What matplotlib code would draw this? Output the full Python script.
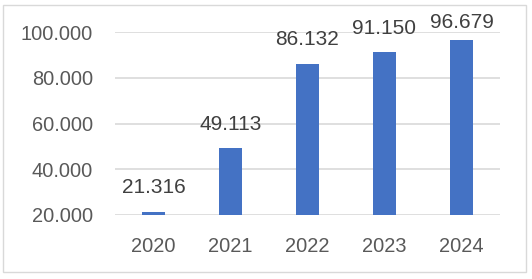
import matplotlib.pyplot as plt
from matplotlib.patches import Rectangle

years = ['2020', '2021', '2022', '2023', '2024']
values = [21.316, 49.113, 86.132, 91.150, 96.679]
y_ticks = [20, 40, 60, 80, 100]

plt.rcParams['font.family'] = ['Liberation Sans', 'DejaVu Sans']

W, H = 532, 279
fig = plt.figure(figsize=(W / 100, H / 100), dpi=100)
ax = fig.add_axes([115 / W, 1 - 215 / H, 385 / W, 183 / H])

x = list(range(len(years)))
ax.bar(x, values, width=0.31, color='#4472C4', zorder=3)

ax.set_xlim(-0.5, len(years) - 0.5)
ax.set_ylim(20, 100)
ax.set_yticks(y_ticks)
ax.set_yticklabels([f'{v:.3f}' for v in y_ticks])
ax.set_xticks(x)
ax.set_xticklabels(years)
ax.tick_params(axis='y', length=0, pad=16, labelsize=14.4, labelcolor='#595959')
ax.tick_params(axis='x', length=0, pad=16, labelsize=14.4, labelcolor='#595959')
ax.grid(axis='y', color='#D9D9D9', linewidth=1.2, zorder=0)
for s in ax.spines.values():
    s.set_visible(False)

# data labels above bars, kept inside the chart area
fig.canvas.draw()
for xi, v in zip(x, values):
    px, py = ax.transData.transform((xi, v))
    py = min(py + 24, H - 22.5)
    fx, fy = fig.transFigure.inverted().transform((px, py))
    fig.text(fx, fy, f'{v:.3f}', ha='center', va='center', fontsize=15, color='#404040')

fig.patches.append(Rectangle((3 / W, 1 - 272 / H), 523 / W, 267 / H,
                             transform=fig.transFigure, fill=False,
                             edgecolor='#D9D9D9', linewidth=1))

fig.savefig('out.png', dpi=100)
